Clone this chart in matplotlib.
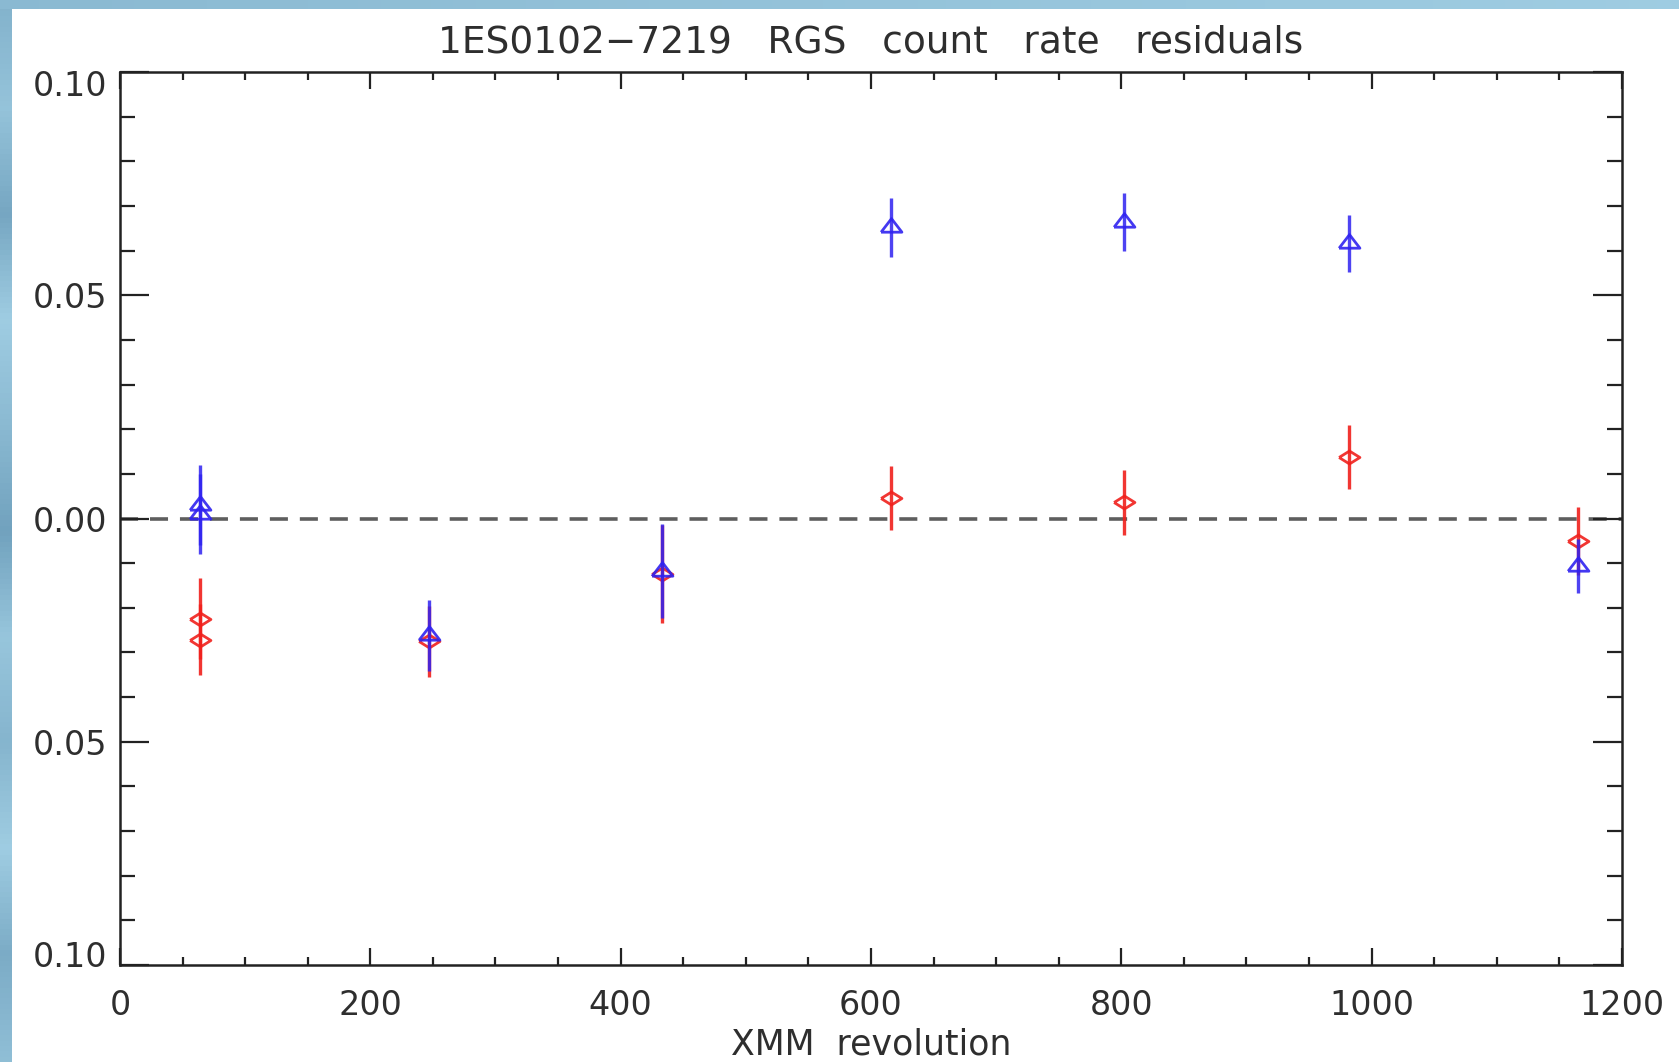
import numpy as np
import matplotlib
matplotlib.use('Agg')
import matplotlib.pyplot as plt
from matplotlib.ticker import FixedLocator, FixedFormatter, MultipleLocator
from matplotlib.transforms import ScaledTranslation

# RGS count rate residuals for 1ES0102-7219, per XMM revolution
rev_red = [64, 64, 247, 433, 616, 802, 982, 1165]
res_red = [-0.0224, -0.0271, -0.0275, -0.0125, 0.0046, 0.0036, 0.0137, -0.0050]
err_red = [0.0090, 0.0080, 0.0080, 0.0110, 0.0072, 0.0072, 0.0072, 0.0076]

rev_blue = [64, 64, 247, 433, 616, 802, 982, 1165]
res_blue = [0.0030, 0.0010, -0.0262, -0.0118, 0.0652, 0.0664, 0.0616, -0.0107]
err_blue = [0.0090, 0.0090, 0.0080, 0.0105, 0.0066, 0.0066, 0.0064, 0.0060]

ytick_vals = [-0.10, -0.05, 0.0, 0.05, 0.10]
ytick_text = ['0.10', '0.05', '0.00', '0.05', '0.10']

W, H = 1679, 1062
fig = plt.figure(figsize=(W / 100, H / 100), dpi=100)
fig.patch.set_facecolor('white')

# slide backdrop: blue strips along the left and top edges
bg = fig.add_axes([0, 0, 1, 1], zorder=-10)
bg.set_xlim(0, W)
bg.set_ylim(H, 0)
bg.axis('off')
shade = np.array([0.55, 0.62, 0.50, 0.66, 0.58, 0.48, 0.63, 0.56, 0.66, 0.52, 0.60])
strip = np.interp(np.linspace(0, len(shade) - 1, 200), np.arange(len(shade)), shade)
cmap = matplotlib.colors.LinearSegmentedColormap.from_list('sl', ['#5d8fae', '#a9d6ea'])
bg.imshow(strip[:, None], extent=[0, 12, H, 0], cmap=cmap, vmin=0.4, vmax=0.7, aspect='auto')
bg.imshow(np.linspace(0.58, 0.66, 300)[None, :], extent=[0, W, 9, 0], cmap=cmap,
          vmin=0.4, vmax=0.7, aspect='auto')

ax = fig.add_axes([120 / W, 97 / H, (1622 - 120) / W, (965 - 72) / H])
ax.set_facecolor('white')

blue = '#2f22f0'
red = '#f0201c'

diamond = [(-1, 0), (0, 0.62), (1, 0), (0, -0.62), (-1, 0)]
triangle = [(-1, -0.45), (0, 0.85), (1, -0.45), (-1, -0.45)]

ax.axhline(0, color='#5e5e5e', lw=2.6, ls=(0, (5, 3.3)), zorder=1)

ax.errorbar(rev_red, res_red, yerr=err_red, fmt='none', ecolor=red, elinewidth=2.4,
            capsize=0, alpha=0.9, zorder=2)
ax.plot(rev_red, res_red, ls='none', marker=diamond, ms=15, mfc='none', mec=red,
        mew=2.0, alpha=0.9, zorder=3)
ax.errorbar(rev_blue, res_blue, yerr=err_blue, fmt='none', ecolor=blue, elinewidth=2.4,
            capsize=0, alpha=0.85, zorder=4)
ax.plot(rev_blue, res_blue, ls='none', marker=triangle, ms=15, mfc='none', mec=blue,
        mew=2.0, alpha=0.9, zorder=5)

ax.set_xlim(0, 1200)
ax.set_ylim(-0.10, 0.10)

ax.xaxis.set_major_locator(MultipleLocator(200))
ax.xaxis.set_minor_locator(MultipleLocator(50))
ax.yaxis.set_major_locator(FixedLocator(ytick_vals))
ax.yaxis.set_major_formatter(FixedFormatter(ytick_text))
ax.yaxis.set_minor_locator(MultipleLocator(0.01))

txt = '#2e2e2e'
ax.tick_params(axis='both', which='both', direction='in', top=True, right=True,
               color='#222222', labelcolor=txt, labelsize=24)
ax.tick_params(axis='x', which='major', length=12, width=1.6, pad=17)
ax.tick_params(axis='x', which='minor', length=6, width=1.6)
ax.tick_params(axis='y', which='major', length=21, width=1.6, pad=9)
ax.tick_params(axis='y', which='minor', length=11, width=1.6)
for sp in ax.spines.values():
    sp.set_color('#222222')
    sp.set_linewidth(1.8)

# end labels on the y axis sit inside the frame
yticks = ax.yaxis.get_major_ticks()
yticks[0].label1.set_transform(yticks[0].label1.get_transform()
                               + ScaledTranslation(0, 8 / 72, fig.dpi_scale_trans))
yticks[-1].label1.set_transform(yticks[-1].label1.get_transform()
                                + ScaledTranslation(0, -8 / 72, fig.dpi_scale_trans))

ax.set_title('1ES0102\u22127219   RGS   count   rate   residuals', fontsize=27, color=txt, pad=14)
ax.set_xlabel('XMM  revolution', fontsize=25, color=txt, labelpad=4)

fig.savefig('out.png', dpi=100)
